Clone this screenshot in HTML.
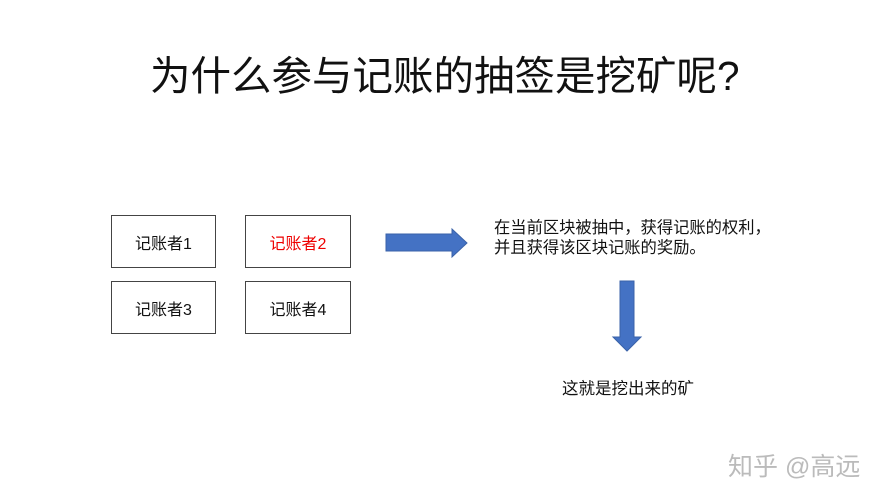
<!DOCTYPE html>
<html><head><meta charset="utf-8"><style>
body{margin:0;width:889px;height:500px;background:#fff;position:relative;overflow:hidden;font-family:"Liberation Sans","Noto Sans CJK SC",sans-serif;}
.t{position:absolute;white-space:nowrap;}
.box{position:absolute;width:103px;height:50px;border:1.5px solid #444;box-sizing:border-box;display:flex;align-items:center;justify-content:center;font-size:16px;color:#111;}
</style></head><body>
<div class="t" style="left:150px;top:43px;font-size:40.5px;color:#111;">为什么参与记账的抽签是挖矿呢?</div>
<div class="box" style="left:111px;top:215px;width:105px;height:53px;">记账者1</div>
<div class="box" style="left:245px;top:215px;width:106px;height:53px;color:#e00;">记账者2</div>
<div class="box" style="left:111px;top:281px;width:105px;height:53px;">记账者3</div>
<div class="box" style="left:245px;top:281px;width:106px;height:53px;">记账者4</div>
<svg style="position:absolute;left:0;top:0" width="889" height="500">
<polygon points="386,234 452,234 452,229 467,243 452,257 452,251 386,251" fill="#4472c4" stroke="#3a62a8" stroke-width="1"/>
<polygon points="620,281 634,281 634,337 641,337 627,351 613,337 620,337" fill="#4472c4" stroke="#3a62a8" stroke-width="1"/>
</svg>
<div class="t" style="left:494px;top:218px;font-size:16.3px;line-height:20px;color:#111;">在当前区块被抽中，获得记账的权利，<br>并且获得该区块记账的奖励。</div>
<div class="t" style="left:562px;top:375px;font-size:16.5px;color:#111;">这就是挖出来的矿</div>
<div class="t" style="left:728px;top:447px;font-size:25px;color:#bbb;">知乎 @高远</div>
</body></html>
